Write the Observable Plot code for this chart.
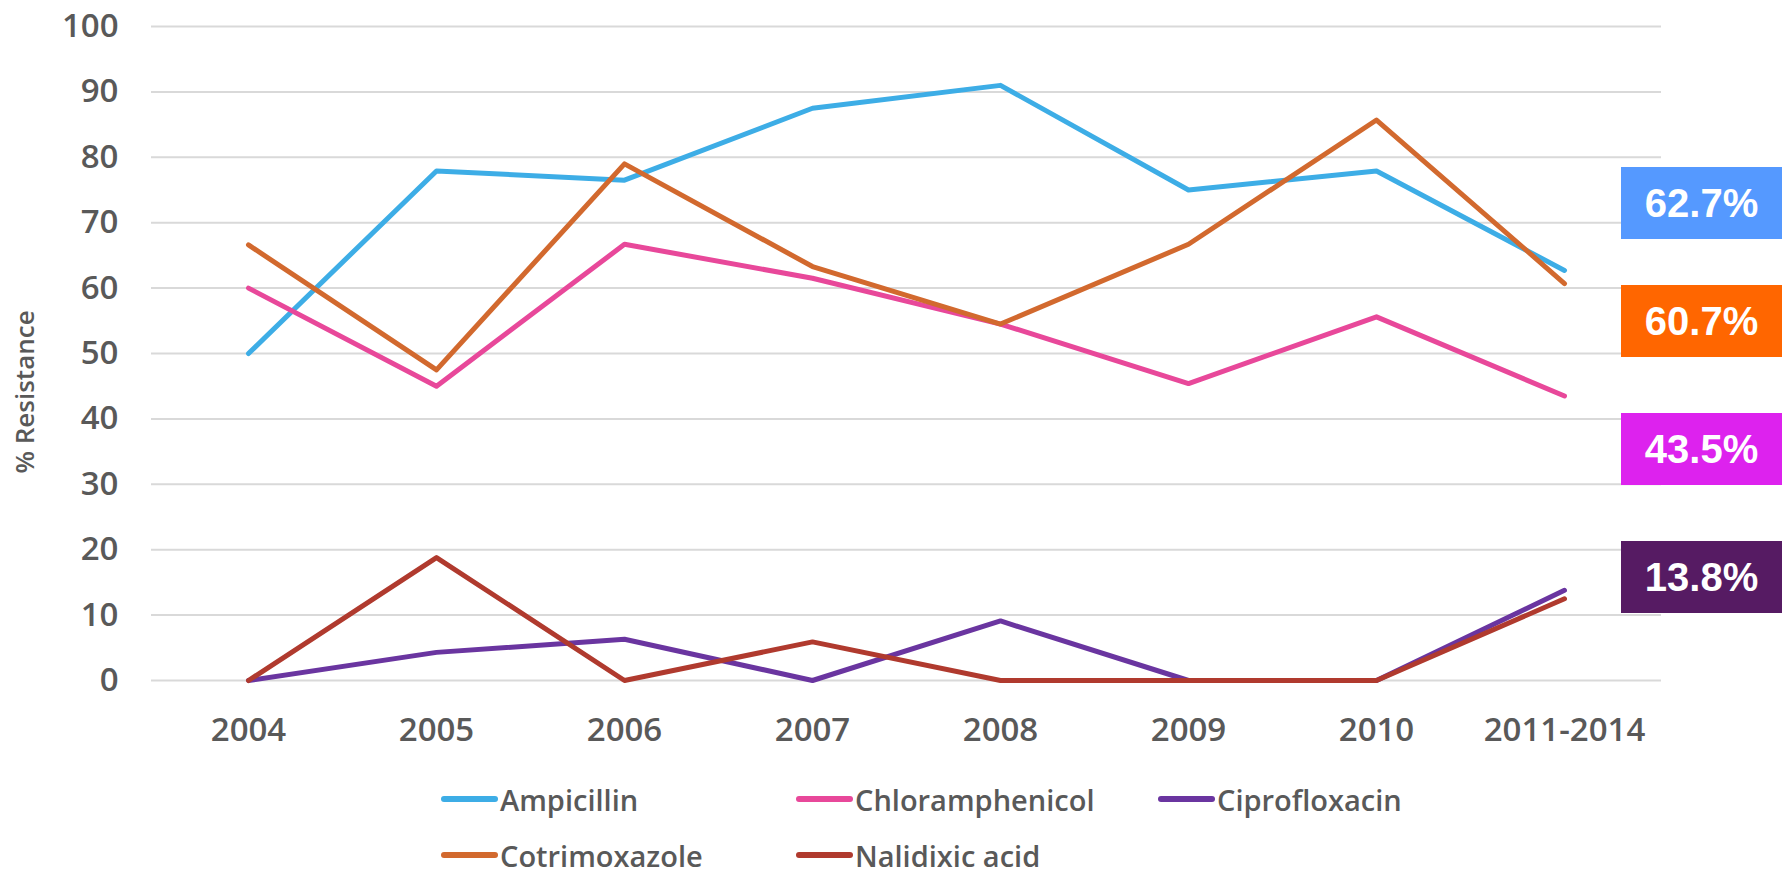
<!DOCTYPE html>
<html>
<head>
<meta charset="utf-8">
<script src="https://cdn.jsdelivr.net/npm/d3@7"></script>
<script src="https://cdn.jsdelivr.net/npm/@observablehq/plot@0.6"></script>
<style>
  html, body { margin: 0; padding: 0; background: #fff; }
  #wrap { position: relative; width: 1786px; height: 877px; overflow: hidden; font-family: "Open Sans", "DejaVu Sans", sans-serif; }
  #chart svg { display: block; }
  #legend { position: absolute; left: 441px; top: 771px; display: grid; grid-template-columns: 355px 362px auto; grid-auto-rows: 56px; color: #595959; font-size: 29px; line-height: 1; font-weight: 600; }
  .item { display: flex; align-items: center; white-space: nowrap; }
  .sw { width: 57px; height: 6px; border-radius: 3px; margin-right: 2px; }
  .callout { position: absolute; left: 1621px; width: 161px; height: 72px; display: flex; align-items: center; justify-content: center; color: #fff; font-family: "Liberation Sans", Arial, sans-serif; font-weight: bold; font-size: 40px; line-height: 1; }
</style>
</head>
<body>
<div id="wrap">
  <div id="chart"></div>
  <div id="legend"></div>
</div>
<script>
const categories = ["2004", "2005", "2006", "2007", "2008", "2009", "2010", "2011-2014"];
const seriesNames = ["Ampicillin", "Chloramphenicol", "Ciprofloxacin", "Cotrimoxazole", "Nalidixic acid"];
const seriesColors = ["#3dade6", "#e8489a", "#6a35a0", "#d2692e", "#b03a2e"];
const ampicillin      = [50, 77.9, 76.5, 87.5, 91, 75, 77.9, 62.7];
const chloramphenicol = [60, 45, 66.7, 61.5, 54.5, 45.4, 55.6, 43.5];
const ciprofloxacin   = [0, 4.3, 6.3, 0, 9.1, 0, 0, 13.8];
const cotrimoxazole   = [66.6, 47.5, 79, 63.3, 54.5, 66.7, 85.7, 60.7];
const nalidixic       = [0, 18.8, 0, 5.9, 0, 0, 0, 12.5];
const yTicks = [0, 10, 20, 30, 40, 50, 60, 70, 80, 90, 100];
const yLabel = "% Resistance";
const calloutLabels = ["62.7%", "60.7%", "43.5%", "13.8%"];
const calloutColors = ["#5599ff", "#ff6600", "#dd22ee", "#561b63"];
const calloutTops = [167, 285, 413, 541];

const seriesValues = [ampicillin, chloramphenicol, ciprofloxacin, cotrimoxazole, nalidixic];
const data = [];
seriesNames.forEach((s, i) => {
  categories.forEach((c, j) => data.push({series: s, year: c, value: seriesValues[i][j]}));
});

const plot = Plot.plot({
  width: 1786,
  height: 760,
  marginLeft: 151,
  marginRight: 125,
  marginTop: 26,
  marginBottom: 80,
  style: {fontFamily: "'Open Sans', 'DejaVu Sans', sans-serif", color: "#595959", background: "#fff", fontWeight: 600},
  x: {type: "point", domain: categories, padding: 0.5, label: null},
  y: {domain: [0, 100], label: null},
  color: {domain: seriesNames, range: seriesColors},
  marks: [
    Plot.gridY(yTicks, {stroke: "#d9d9d9", strokeOpacity: 1, strokeWidth: 2}),
    Plot.axisY(yTicks, {tickSize: 0, tickPadding: 33, fontSize: 33, label: null}),
    Plot.axisX({tickSize: 0, tickPadding: 37, fontSize: 33, label: null}),
    Plot.text([yLabel], {frameAnchor: "left", rotate: -90, dx: -126, dy: 120, fontSize: 26, fill: "#595959"}),
    Plot.line(data, {x: "year", y: "value", z: "series", stroke: "series", strokeWidth: 5, strokeLinejoin: "round", strokeLinecap: "round"})
  ]
});
document.getElementById("chart").appendChild(plot);

const legend = document.getElementById("legend");
seriesNames.forEach((s, i) => {
  const it = document.createElement("div");
  it.className = "item";
  const sw = document.createElement("span");
  sw.className = "sw";
  sw.style.background = seriesColors[i];
  const tx = document.createElement("span");
  tx.textContent = s;
  it.appendChild(sw); it.appendChild(tx);
  legend.appendChild(it);
});

const wrap = document.getElementById("wrap");
calloutLabels.forEach((t, i) => {
  const d = document.createElement("div");
  d.className = "callout";
  d.style.top = calloutTops[i] + "px";
  d.style.background = calloutColors[i];
  d.textContent = t;
  wrap.appendChild(d);
});
</script>
</body>
</html>
